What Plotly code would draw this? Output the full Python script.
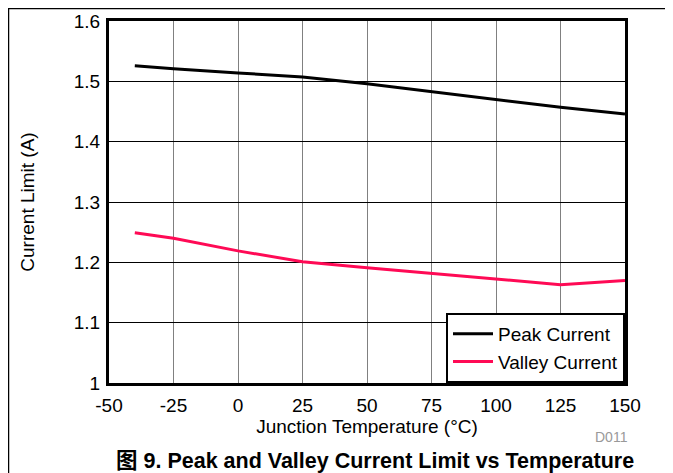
import plotly.graph_objects as go

temps = [-40, -25, 0, 25, 50, 75, 100, 125, 150]
peak = [1.526, 1.521, 1.514, 1.507, 1.496, 1.483, 1.470, 1.457, 1.446]
valley = [1.249, 1.240, 1.219, 1.201, 1.191, 1.182, 1.173, 1.163, 1.170]
xticks = [-50, -25, 0, 25, 50, 75, 100, 125, 150]
xtext = ["-50", "-25", "0", "25", "50", "75", "100", "125", "150"]
yticks = [1.0, 1.1, 1.2, 1.3, 1.4, 1.5, 1.6]
ytext = ["1", "1.1", "1.2", "1.3", "1.4", "1.5", "1.6"]

font = "Liberation Sans, Arial, sans-serif"

# page is offset by 8px (body margin): plot area target page x 109..625, y 21..383
L, T, R, B = 101, 13, 617, 375
W, H = 673, 473
PW, PH = R - L, B - T

def px(x):
    return (x - L) / PW

def py(y):
    return (B - y) / PH

fig = go.Figure()
fig.add_trace(go.Scatter(x=temps, y=peak, mode="lines", name="Peak Current",
                         line=dict(color="black", width=3)))
fig.add_trace(go.Scatter(x=temps, y=valley, mode="lines", name="Valley Current",
                         line=dict(color="#FF0A55", width=3)))

fig.update_layout(
    width=W, height=H,
    margin=dict(l=L, r=W - R, t=T, b=H - B, autoexpand=False),
    paper_bgcolor="white", plot_bgcolor="white",
    font=dict(family=font, size=19, color="black"),
    showlegend=True,
    legend=dict(x=1, y=0, xanchor="right", yanchor="bottom",
                bgcolor="white", bordercolor="black", borderwidth=2,
                font=dict(size=19), tracegroupgap=0, itemwidth=40),
    xaxis=dict(range=[-50, 150], tickvals=xticks, ticktext=xtext, ticks="",
               ticklabelstandoff=3, showgrid=True,
               gridcolor="#808080", gridwidth=1, showline=True, linecolor="black",
               linewidth=3, mirror=True, zeroline=False,
               title=dict(text="Junction Temperature (°C)", font=dict(size=19), standoff=0),
               tickfont=dict(size=19)),
    yaxis=dict(range=[1.0, 1.6], tickvals=yticks, ticktext=ytext, ticks="",
               ticklabelstandoff=2, showgrid=True,
               gridcolor="black", gridwidth=1, showline=True, linecolor="black",
               linewidth=3, mirror=True, zeroline=False,
               title=dict(text="Current Limit (A)", font=dict(size=19), standoff=35),
               tickfont=dict(size=19)),
)

fig.add_annotation(text="D011", xref="paper", yref="paper", x=px(622), y=py(429),
                   xanchor="right", yanchor="middle", showarrow=False,
                   font=dict(size=14, color="#999999"))
fig.add_annotation(text="<b>图 9. Peak and Valley Current Limit vs Temperature</b>",
                   xref="paper", yref="paper", x=px(366.5), y=py(452.5), xanchor="center",
                   yanchor="middle", showarrow=False,
                   font=dict(size=21.5, family="Liberation Sans, Noto Sans CJK SC, sans-serif"))

# page frame lines
fig.add_shape(type="line", xref="paper", yref="paper",
              x0=px(0.5), x1=px(0.5), y0=py(0), y1=py(H),
              line=dict(color="black", width=1.5))
fig.add_shape(type="line", xref="paper", yref="paper",
              x0=px(0), x1=px(W), y0=py(0.5), y1=py(0.5),
              line=dict(color="black", width=1.5))

fig.write_html("out.html")
